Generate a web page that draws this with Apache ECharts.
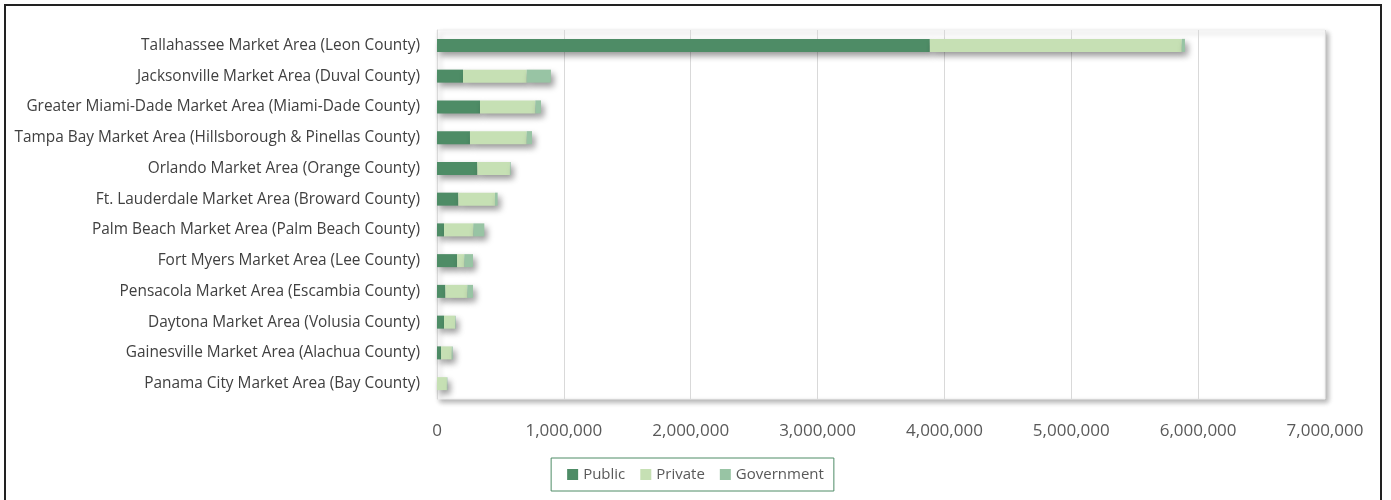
<!DOCTYPE html>
<html>
<head>
<meta charset="utf-8">
<script src="https://cdn.jsdelivr.net/npm/echarts@6/dist/echarts.min.js"></script>
<style>
  html, body { margin: 0; padding: 0; background: #fff; }
  #frame { position: absolute; left: 4px; top: 4px; width: 1378px; height: 520px; border: 2px solid #222; box-sizing: border-box; }
  #chart { position: absolute; left: 0; top: 0; width: 1391px; height: 500px; }
</style>
</head>
<body>
<div id="frame"></div>
<div id="chart"></div>
<script>
// Market areas, top to bottom
const categories = [
  'Tallahassee Market Area (Leon County)',
  'Jacksonville Market Area (Duval County)',
  'Greater Miami-Dade Market Area (Miami-Dade County)',
  'Tampa Bay Market Area (Hillsborough & Pinellas County)',
  'Orlando Market Area (Orange County)',
  'Ft. Lauderdale Market Area (Broward County)',
  'Palm Beach Market Area (Palm Beach County)',
  'Fort Myers Market Area (Lee County)',
  'Pensacola Market Area (Escambia County)',
  'Daytona Market Area (Volusia County)',
  'Gainesville Market Area (Alachua County)',
  'Panama City Market Area (Bay County)'
];
const publicValues     = [3885000, 205000, 339000, 260000, 318000, 168000, 55000, 158000, 66000, 55000, 32000, 0];
const privateValues    = [1986000, 502000, 436000, 447000, 257000, 289000, 231000, 57000, 173000, 87000, 84000, 78000];
const governmentValues = [25000, 191000, 45000, 42000, 6000, 21000, 87000, 69000, 45000, 5000, 8000, 4000];
const seriesNames = ['Public', 'Private', 'Government'];
const seriesColors = ['#4e8c66', '#c6e0b4', '#98c4a4'];
const xTicks = { min: 0, max: 7000000, interval: 1000000 };

const font = '"Open Sans", "Noto Sans", sans-serif';
const chart = echarts.init(document.getElementById('chart'), null, { renderer: 'canvas' });

const barShadow = {
  shadowBlur: 6,
  shadowOffsetX: 3,
  shadowOffsetY: 4,
  shadowColor: 'rgba(0,0,0,0.4)'
};

chart.setOption({
  animation: false,
  grid: {
    left: 437, right: 66, top: 30, bottom: 101,
    show: true,
    backgroundColor: '#fff',
    borderColor: '#f0f0f0',
    borderWidth: 1,
    shadowBlur: 5,
    shadowOffsetX: 3,
    shadowOffsetY: 3,
    shadowColor: 'rgba(0,0,0,0.3)'
  },
  legend: {
    data: seriesNames,
    bottom: 9,
    left: 'center',
    itemWidth: 11,
    itemHeight: 11,
    itemGap: 15,
    icon: 'rect',
    padding: [9, 10, 9, 16],
    borderColor: '#4e8c66',
    borderWidth: 1,
    textStyle: { fontFamily: font, fontSize: 15, color: '#595959' }
  },
  xAxis: {
    type: 'value',
    min: xTicks.min,
    max: xTicks.max,
    interval: xTicks.interval,
    axisLine: { show: false },
    axisTick: { show: false },
    splitLine: { lineStyle: { color: '#d9d9d9', width: 1 } },
    axisLabel: {
      margin: 24,
      fontFamily: font,
      fontSize: 17,
      color: '#595959',
      formatter: v => v.toLocaleString('en-US')
    }
  },
  yAxis: {
    type: 'category',
    data: categories,
    inverse: true,
    axisLine: { show: true, lineStyle: { color: '#d9d9d9' } },
    axisTick: { show: false },
    axisLabel: {
      margin: 17,
      fontFamily: font,
      fontSize: 15.4,
      color: '#404040'
    }
  },
  series: [publicValues, privateValues, governmentValues].map((vals, i) => ({
    name: seriesNames[i],
    type: 'bar',
    stack: 'total',
    data: vals,
    barWidth: 13,
    itemStyle: Object.assign({ color: seriesColors[i] }, barShadow)
  }))
});
</script>
</body>
</html>
